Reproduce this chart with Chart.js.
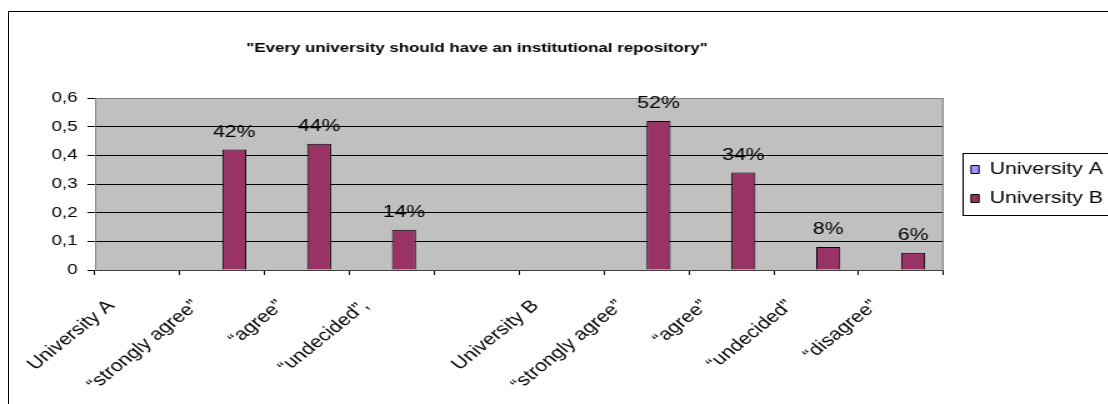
<!DOCTYPE html>
<html>
<head>
<meta charset="utf-8">
<script src="https://cdn.jsdelivr.net/npm/chart.js@4.4.1/dist/chart.umd.min.js"></script>
<style>
html, body { margin: 0; padding: 0; background: #fff; overflow: hidden; width: 1108px; height: 404px; }
#frame { position: absolute; left: 8px; top: 11px; width: 1200px; height: 500px; border: 1px solid #000; }
/* the reference picture is stretched sideways, so the canvas is too */
#wrap { position: absolute; left: 0; top: 0; width: 900px; height: 404px; transform: scaleX(1.25); transform-origin: 0 0; }
</style>
</head>
<body>
<div id="frame"></div>
<div id="wrap"><canvas id="chart" width="900" height="404"></canvas></div>
<script>
const chartTitle = '"Every university should have an institutional repository"';
const categories = ['University A', '\u201cstrongly agree\u201d', '\u201cagree\u201d', '\u201cundecided\u201d,', '',
                    'University B', '\u201cstrongly agree\u201d', '\u201cagree\u201d', '\u201cundecided\u201d', '\u201cdisagree\u201d'];
const seriesNames = ['University A', 'University B'];
const universityA = [null, null, null, null, null, null, null, null, null, null];
const universityB = [null, 0.42, 0.44, 0.14, null, null, 0.52, 0.34, 0.08, 0.06];
const yTickLabels = ['0', '0,1', '0,2', '0,3', '0,4', '0,5', '0,6'];

const FONT = '"Liberation Sans", Arial, sans-serif';
Chart.defaults.font.family = FONT;
Chart.defaults.color = '#000';

// grey plot area with a thin frame
const plotArea = {
    id: 'plotArea',
    beforeDraw(chart) {
        const a = chart.chartArea, ctx = chart.ctx;
        ctx.save();
        ctx.fillStyle = '#c0c0c0';
        ctx.fillRect(a.left, a.top, a.right - a.left, a.bottom - a.top);
        ctx.restore();
    },
    beforeDatasetsDraw(chart) {
        const a = chart.chartArea, ctx = chart.ctx;
        ctx.save();
        ctx.strokeStyle = '#808080';
        ctx.lineWidth = 1;
        ctx.beginPath();
        ctx.moveTo(a.right - 0.5, a.top);
        ctx.lineTo(a.right - 0.5, a.bottom);
        ctx.stroke();
        ctx.restore();
    }
};

const sheetTitle = {
    id: 'sheetTitle',
    afterDraw(chart) {
        const ctx = chart.ctx;
        ctx.save();
        ctx.font = 'bold 13.5px ' + FONT;
        ctx.fillStyle = '#000';
        ctx.textAlign = 'center';
        ctx.fillText(chartTitle, 381.6, 52);
        ctx.restore();
    }
};

const percentLabels = {
    id: 'percentLabels',
    afterDatasetsDraw(chart) {
        const ctx = chart.ctx;
        const meta = chart.getDatasetMeta(1);
        ctx.save();
        ctx.font = '17px ' + FONT;
        ctx.fillStyle = '#000';
        ctx.textAlign = 'center';
        meta.data.forEach((bar, i) => {
            const v = universityB[i];
            if (v == null) return;
            ctx.fillText(Math.round(v * 100) + '%', bar.x, bar.y - 13);
        });
        ctx.restore();
    }
};

// the legend frame runs off the right edge, as in the picture
const legendBox = {
    id: 'legendBox',
    afterDraw(chart) {
        const hb = chart.legend.legendHitBoxes;
        if (!hb || !hb.length) return;
        const ctx = chart.ctx;
        const last = hb[hb.length - 1];
        const left = hb[0].left - 6.4;
        const top = hb[0].top - 8;
        const bottom = last.top + last.height + 8;
        ctx.save();
        ctx.strokeStyle = '#000';
        ctx.lineWidth = 1;
        ctx.strokeRect(Math.round(left) + 0.5, Math.round(top) + 0.5, 950 - left, bottom - top);
        ctx.restore();
    }
};

new Chart(document.getElementById('chart'), {
    type: 'bar',
    data: {
        labels: categories,
        datasets: [{
            label: seriesNames[0],
            data: universityA,
            backgroundColor: '#9999ff',
            borderColor: '#000',
            borderWidth: 1,
            yAxisID: 'y'
        }, {
            label: seriesNames[1],
            data: universityB,
            backgroundColor: '#993366',
            borderColor: '#000',
            borderWidth: 1,
            yAxisID: 'y'
        }]
    },
    options: {
        responsive: false,
        animation: false,
        categoryPercentage: 0.566,
        barPercentage: 1.0,
        layout: { padding: { top: 98, left: 0, right: 7.6, bottom: 0 } },
        plugins: {
            title: { display: false },
            tooltip: { enabled: false },
            legend: {
                position: 'right',
                align: 'center',
                fullSize: false,
                labels: { boxWidth: 6.4, boxHeight: 8, padding: 12, font: { size: 17 }, color: '#000' }
            }
        },
        scales: {
            x: {
                offset: true,
                grid: { offset: true, drawOnChartArea: false, drawTicks: true, tickLength: 5, tickColor: '#000' },
                border: { display: true, color: '#404040' },
                ticks: {
                    autoSkip: false, minRotation: 45, maxRotation: 45,
                    padding: 21, labelOffset: -21,
                    font: { size: 17 }, color: '#000'
                },
                afterFit(s) { s.height = 134; }
            },
            y: {
                min: 0,
                max: 0.6,
                ticks: {
                    stepSize: 0.1,
                    padding: 8,
                    font: { size: 15 },
                    color: '#000',
                    callback: (v, i) => yTickLabels[i]
                },
                grid: {
                    color: c => (c.tick && c.tick.value >= 0.6 - 1e-9) ? '#808080' : '#000',
                    tickColor: '#000',
                    tickLength: 6
                },
                border: { display: true, color: '#808080' },
                afterFit(s) { s.width = 76; }
            },
            gap: {
                position: 'right',
                display: true,
                grid: { display: false },
                border: { display: false },
                ticks: { display: false },
                afterFit(s) { s.width = 10; }
            }
        }
    },
    plugins: [plotArea, sheetTitle, percentLabels, legendBox]
});
</script>
</body>
</html>
